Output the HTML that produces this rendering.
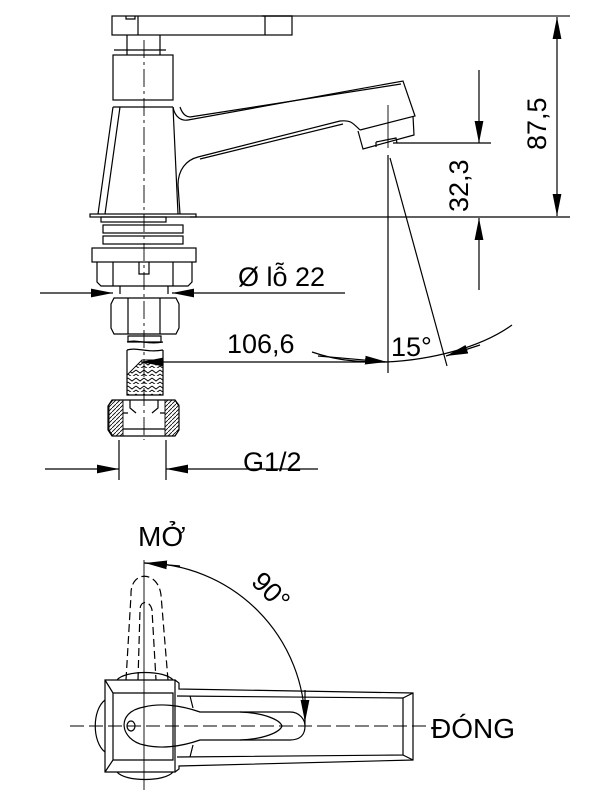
<!DOCTYPE html>
<html><head><meta charset="utf-8"><style>
html,body{margin:0;padding:0;background:#fff;}
svg{display:block}
text{font-family:"Liberation Sans",sans-serif;fill:#000}
</style></head><body>
<svg width="608" height="800" viewBox="0 0 608 800" xmlns="http://www.w3.org/2000/svg">
<defs>
<marker id="a" viewBox="0 0 10 4" refX="10" refY="2" markerWidth="22" markerHeight="9" markerUnits="userSpaceOnUse" orient="auto"><path d="M0,0L10,2L0,4z" fill="#000"/></marker>
<pattern id="h" width="8" height="8" patternUnits="userSpaceOnUse"><path d="M0 2l4 3 4-3M0 6l4 3 4-3" fill="none" stroke="#000" stroke-width="0.9"/></pattern>
<pattern id="d" width="4" height="4" patternUnits="userSpaceOnUse"><path d="M0 4L4 0" stroke="#000" stroke-width="0.8"/></pattern>
</defs>
<g fill="none" stroke="#000" stroke-width="1.2">
<line x1="262" y1="16" x2="570" y2="16" stroke="#444" stroke-width="1.5"/>
<line x1="190" y1="217" x2="570" y2="217"/>
<rect x="112" y="16" width="180" height="19"/>
<line x1="138" y1="16" x2="138" y2="35"/><line x1="265" y1="16" x2="265" y2="35"/>
<path d="M126 16v3h9v-3"/>
<path d="M127 35v20M160 35v20M114 50h52"/>
<rect x="113" y="55" width="60" height="45"/>
<path d="M113 107L98 214M120 107L105 214M173 107L178 214"/>
<path d="M113 107H173"/>
<path d="M173 107C175 118 182 121 188 120L403 81L415 116L360 130"/>
<path d="M180 107C183 116 188 117 190 117L401 84"/>
<path d="M360 130C352 122 350 120 340 121L198 157C186 160 178 170 178 185L180 214"/>
<path d="M343 124L200 159"/>
<path d="M358 131L363 149L414 135L413 116"/>
<path d="M376 142L376 147M376 142L396 138L397 143"/>
<rect x="90" y="214" width="106" height="3"/>
<rect x="101" y="217" width="65" height="5"/>
<rect x="103" y="225" width="80" height="8"/>
<rect x="103" y="236" width="80" height="8"/>
<rect x="92" y="248" width="104" height="14"/>
<path d="M97 262v20l4 4h87l4-4v-20M113 262v24M173 262v24M139 262v12h10v-12"/>
<path d="M120 286v8M168 286v8"/>
<path d="M114 298h62l3 6v24l-3 6h-62l-3-6v-24z M128 298v36M160 298v36"/>
<path d="M128 336h33v6h-33z"/>
<path d="M127 342c10-3 20 3 36 0M127 350c10-3 20 3 36 0"/>
<path d="M127 350v45h36v-45"/>
<path d="M127 395V375L142 360H163V395Z" fill="url(#h)" stroke-width="0.9"/>
<path d="M112 400h63l4 6v24l-4 6h-63l-4-6v-24z"/>
<path d="M109 405l4-5h10v36h-10l-4-6zM179 405l-4-5h-10v36h10l4-6z" fill="url(#d)" stroke-width="0.9"/>
<path d="M123 429h42M130 400v8l6 5M158 400v8l-6 5M123 413h5M165 413h-5"/>
<line x1="144" y1="40" x2="144" y2="440" stroke-width="0.9" stroke-dasharray="18,4,3,4"/>
<line x1="40" y1="293" x2="113" y2="293" marker-end="url(#a)"/>
<line x1="345" y1="293" x2="172" y2="293" marker-end="url(#a)"/>
<line x1="385" y1="362" x2="141" y2="362" marker-end="url(#a)"/>
<line x1="119" y1="440" x2="119" y2="480"/><line x1="166" y1="440" x2="166" y2="480"/>
<line x1="45" y1="469" x2="119" y2="469" marker-end="url(#a)"/>
<line x1="318" y1="469" x2="166" y2="469" marker-end="url(#a)"/>
<line x1="557" y1="100" x2="557" y2="17" marker-end="url(#a)"/>
<line x1="557" y1="100" x2="557" y2="216" marker-end="url(#a)"/>
<line x1="479" y1="70" x2="479" y2="143" marker-end="url(#a)"/>
<line x1="479" y1="290" x2="479" y2="218" marker-end="url(#a)"/>
<line x1="393" y1="143" x2="491" y2="143"/>
<line x1="388" y1="105" x2="388" y2="148" stroke-width="0.9"/>
<line x1="388" y1="155" x2="388" y2="373"/>
<line x1="390" y1="158" x2="447" y2="366"/>
<path d="M312 352C330 358 345 362 386 362"/>
<path d="M386 362C430 360 480 348 512 325"/>
<line x1="318" y1="356" x2="387" y2="362" marker-end="url(#a)"/>
<line x1="480" y1="345" x2="446" y2="356" marker-end="url(#a)"/>
<line x1="144" y1="560" x2="144" y2="790" stroke-width="0.9"/>
<line x1="70" y1="726" x2="430" y2="726" stroke-width="0.9" stroke-dasharray="14,5"/>
<path d="M144 563A162 162 0 0 1 305 725"/>
<line x1="180" y1="566" x2="145" y2="563" marker-end="url(#a)"/>
<line x1="305" y1="690" x2="305" y2="722" marker-end="url(#a)"/>
<g stroke-dasharray="8,4">
<path d="M126 680L131 595C130 570 158 570 161 595L168 680"/>
<path d="M138 680L140 610C140 600 150 600 152 610L156 680"/>
</g>
<path d="M105 680h70v92h-70zM113 693h60v67h-60zM105 680l8 13M105 772l8-12"/>
<path d="M105 700C92 710 92 742 105 752"/>
<path d="M117 680C125 670 165 670 173 680M117 772C125 782 165 782 173 772"/>
<path d="M175 680l4 3v6L413 693V760L179 766v3l-4 3"/>
<path d="M177 696L403 698V755L177 757"/>
<path d="M403 698l10-5M403 755l10 5"/>
<path d="M190 696l3 12M190 757l3-12"/>
<path d="M144 707C160 703 180 705 200 712L290 712C300 712 305 720 305 726C305 735 300 740 290 740L200 740C180 747 160 749 144 745C120 740 115 712 144 707Z"/>
<path d="M240 712C265 713 280 720 282 726C280 732 265 739 240 740"/>
<ellipse cx="131" cy="726" rx="4" ry="5"/>
</g>
<g font-size="27">
<text x="238" y="286">Ø lỗ 22</text>
<text x="227" y="353">106,6</text>
<text x="243" y="471">G1/2</text>
<text x="391" y="356">15°</text>
<text transform="translate(468,212) rotate(-90)">32,3</text>
<text transform="translate(546,150) rotate(-90)">87,5</text>
<text x="138" y="546" font-size="28">MỞ</text>
<text x="431" y="738" font-size="28">ĐÓNG</text>
<text transform="translate(250,583) rotate(45)">90°</text>
</g>
</svg>
</body></html>
